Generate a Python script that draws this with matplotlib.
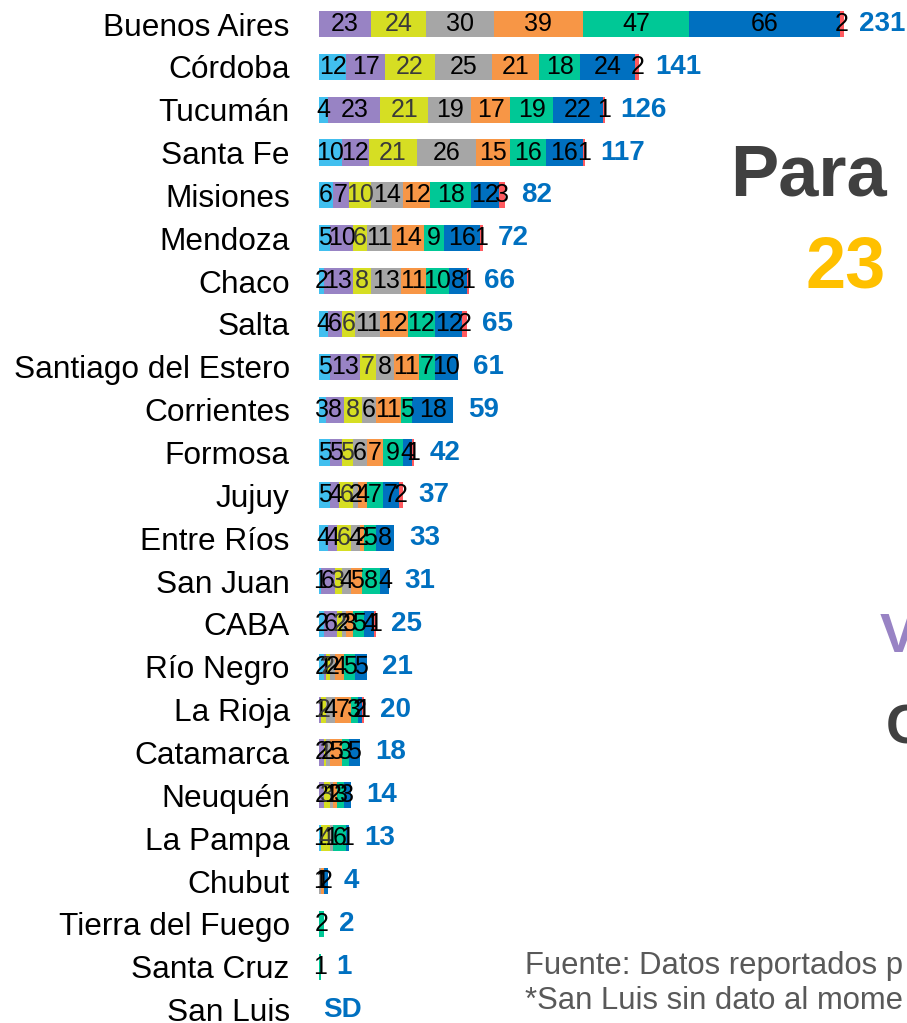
import matplotlib
matplotlib.use("Agg")
import matplotlib.pyplot as plt

plt.rcParams['font.family'] = ['Liberation Sans', 'DejaVu Sans']

provinces = ["Buenos Aires", "Córdoba", "Tucumán", "Santa Fe", "Misiones", "Mendoza",
             "Chaco", "Salta", "Santiago del Estero", "Corrientes", "Formosa", "Jujuy",
             "Entre Ríos", "San Juan", "CABA", "Río Negro", "La Rioja", "Catamarca",
             "Neuquén", "La Pampa", "Chubut", "Tierra del Fuego", "Santa Cruz", "San Luis"]

s1 = [0, 12, 4, 10, 6, 5, 2, 4, 5, 3, 5, 5, 4, 1, 2, 2, 0, 0, 0, 1, 0, 0, 0, 0]
s2 = [23, 17, 23, 12, 7, 10, 13, 6, 13, 8, 5, 4, 4, 6, 6, 1, 1, 2, 2, 0, 0, 0, 0, 0]
s3 = [24, 22, 21, 21, 10, 6, 8, 6, 7, 8, 5, 6, 6, 3, 2, 2, 2, 1, 3, 4, 0, 0, 0, 0]
s4 = [30, 25, 19, 26, 14, 11, 13, 11, 8, 6, 6, 2, 4, 4, 2, 2, 4, 2, 1, 1, 1, 0, 0, 0]
s5 = [39, 21, 17, 15, 12, 14, 11, 12, 11, 11, 7, 4, 2, 5, 3, 4, 7, 5, 2, 0, 1, 0, 0, 0]
s6 = [47, 18, 19, 16, 18, 9, 10, 12, 7, 5, 9, 7, 5, 8, 5, 5, 3, 3, 3, 6, 0, 2, 1, 0]
s7 = [66, 24, 22, 16, 12, 16, 8, 12, 10, 18, 4, 7, 8, 4, 4, 5, 2, 5, 3, 1, 2, 0, 0, 0]
s8 = [2, 2, 1, 1, 3, 1, 1, 2, 0, 0, 1, 2, 0, 0, 1, 0, 1, 0, 0, 0, 0, 0, 0, 0]
totals = ["231", "141", "126", "117", "82", "72", "66", "65", "61", "59", "42", "37",
          "33", "31", "25", "21", "20", "18", "14", "13", "4", "2", "1", "SD"]

series = [s1, s2, s3, s4, s5, s6, s7, s8]
colors = ["#41BFEF", "#9883C4", "#D6DE23", "#A6A6A6", "#F79646", "#00C896", "#0070C0", "#FF5A5F"]
label_colors = ["black", "black", "#3a3a3a", "black", "black", "black", "black", "black"]

W, H = 907, 1023
fig = plt.figure(figsize=(W / 100, H / 100), dpi=100)

x0_px = 319
ax = fig.add_axes([x0_px / W, 0, 1 - x0_px / W, 1])
px_per_unit = 2.273
ax.set_xlim(0, (W - x0_px) / px_per_unit)
row0, step = 24, 42.85
ax.set_ylim((H - row0) / step, -row0 / step)

y = list(range(len(provinces)))
left = [0] * len(provinces)
for vals, c, lc in zip(series, colors, label_colors):
    ax.barh(y, vals, left=left, height=0.61, color=c, edgecolor='none')
    for i, v in enumerate(vals):
        if v > 0:
            ax.text(left[i] + v / 2, i, str(v), ha='center', va='center',
                    fontsize=18, color=lc)
    left = [l + v for l, v in zip(left, vals)]

for i, t in enumerate(totals):
    off = 3 if t == "SD" else 11
    ax.annotate(t, (left[i], i), xytext=(off, 0), textcoords='offset points',
                ha='left', va='center', fontsize=20, fontweight='bold', color='#0070C0')

ax.set_yticks(y)
ax.set_yticklabels(provinces, fontsize=22.8, color='black')
ax.tick_params(axis='y', length=0, pad=21)
ax.set_xticks([])
for sp in ax.spines.values():
    sp.set_visible(False)
ax.patch.set_alpha(0)

def fy(px):
    return 1 - px / H

fig.text(730 / W, fy(196), "Para", fontsize=52, fontweight='bold', color='#404040',
         ha='left', va='baseline')
fig.text(806 / W, fy(287), "23", fontsize=52, fontweight='bold', color='#FFC000',
         ha='left', va='baseline')
fig.text(880 / W, fy(652), "V", fontsize=40, fontweight='bold', color='#9883C4',
         ha='left', va='baseline')
fig.text(886 / W, fy(743), "C", fontsize=40, fontweight='bold', color='#404040',
         ha='left', va='baseline')

fig.text(525 / W, fy(966), "Fuente: Datos reportados p", fontsize=22.3, color='#595959',
         ha='left', va='center')
fig.text(525 / W, fy(1001), "*San Luis sin dato al mome", fontsize=22.3, color='#595959',
         ha='left', va='center')

fig.savefig("out.png", dpi=100)
